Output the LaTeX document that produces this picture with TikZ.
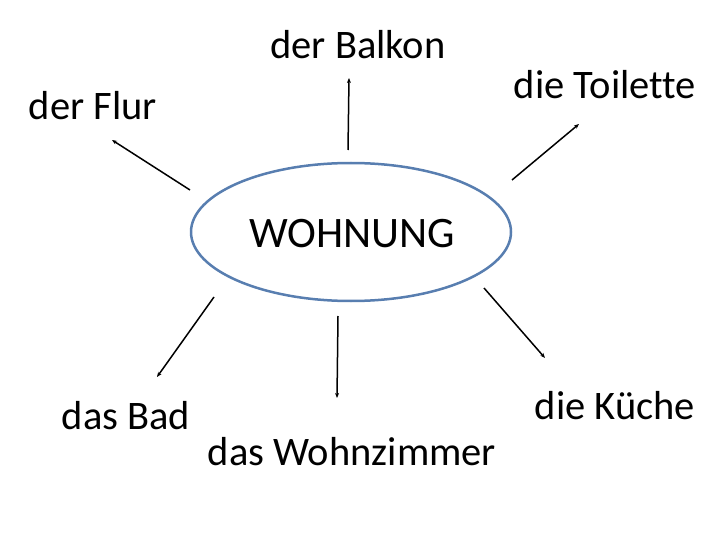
\documentclass[tikz,border=0pt]{standalone}
\usepackage{fontspec}
\setmainfont[Ligatures=CommonOff]{Carlito}
\usepackage{tikz}
\usetikzlibrary{calc,shapes,arrows.meta}
\definecolor{randblau}{RGB}{88,126,176}

\begin{document}
\begin{tikzpicture}[x=1pt,y=-1pt,
    word/.style={font=\fontsize{40.5}{42}\selectfont,inner sep=0pt},
    pfeil/.style={line width=1.5pt,-{Stealth[length=5pt,width=4pt]}}]
          \useasboundingbox (0,0) rectangle (720,540);
          \node[draw=randblau,line width=2.5pt,ellipse,minimum width=320,minimum height=138,inner sep=0pt] (wo) at (351,232) {};
          \node[word,font=\fontsize{43.5}{45}\selectfont] (wt) at (352,234) {WOHNUNG};

          \node[word] (balkon) at (358,45) {der Balkon};
          \node[word] (flur) at (93,106) {der Flur};
          \node[word] (toil) at (605,85) {die Toilette};
          \node[word] (bad) at (126,416) {das Bad};
          \node[word] (wz) at (352,452) {das Wohnzimmer};
          \node[word] (kue) at (615,406) {die Küche};

          \coordinate (a1) at (190,190);  \coordinate (b1) at (112,140);
          \coordinate (a2) at (348,150);  \coordinate (b2) at (349,78);
          \coordinate (a3) at (512,180);  \coordinate (b3) at (579,124);
          \coordinate (a4) at (214,297);  \coordinate (b4) at (157,377);
          \coordinate (a5) at (338,316);  \coordinate (b5) at (337,398);
          \coordinate (a6) at (484,288);  \coordinate (b6) at (545,358);
          \path[pfeil] (a1) edge (b1)  (a2) edge (b2)  (a3) edge (b3)  (a4) edge (b4)  (a5) edge (b5)  (a6) edge (b6);
        \end{tikzpicture}
\end{document}
